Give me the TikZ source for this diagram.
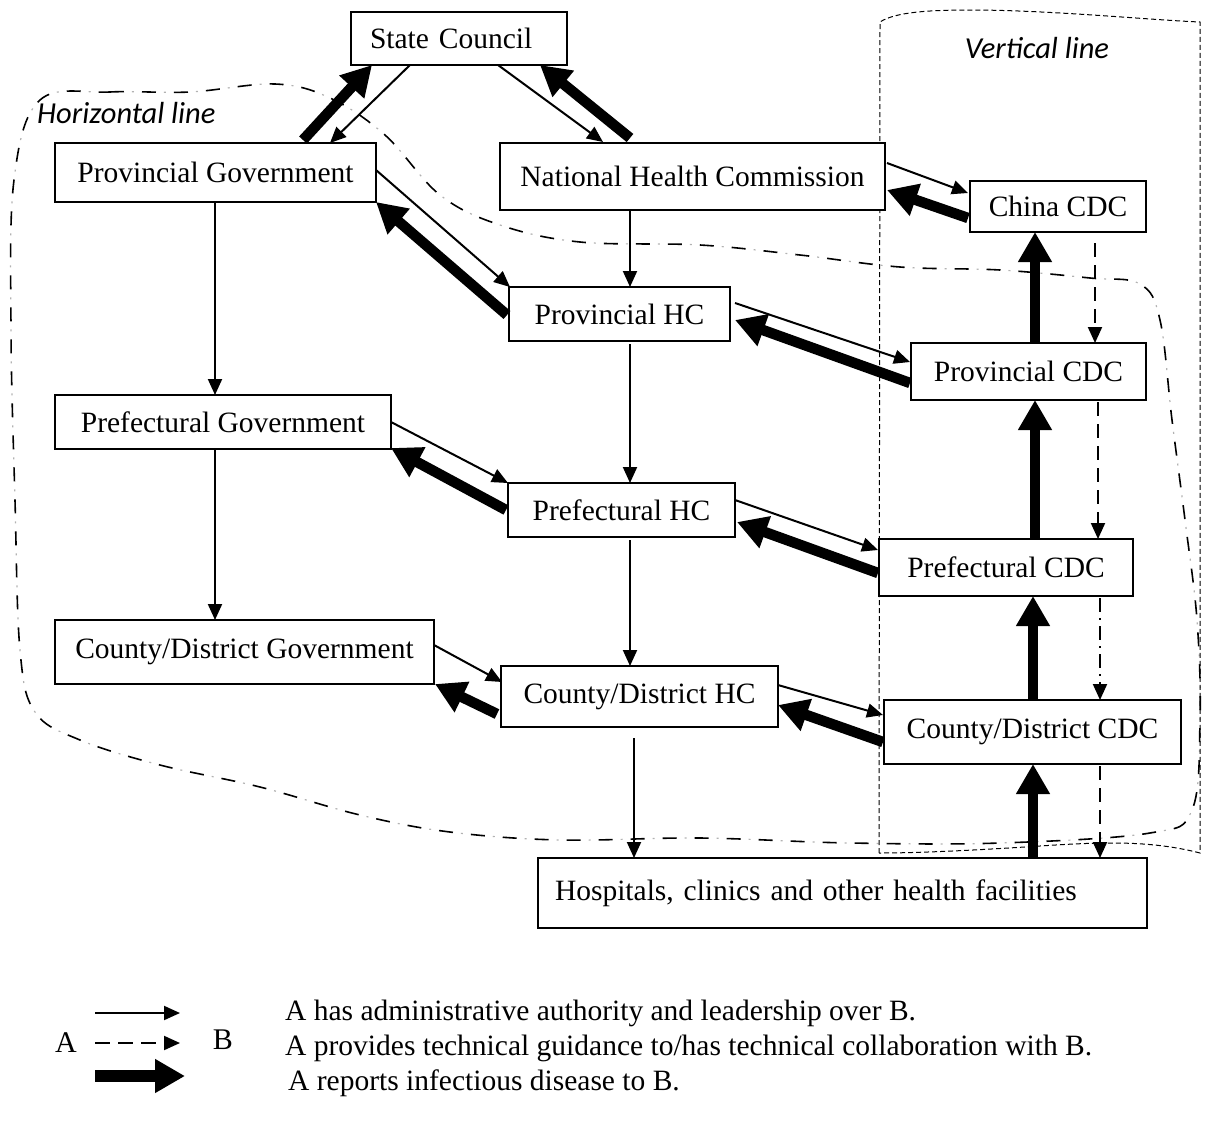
\documentclass[tikz,border=0pt]{standalone}
\usepackage{fontspec}
\setmainfont{Liberation Serif}
\newfontfamily\lblfont{Carlito}
\usetikzlibrary{arrows.meta,calc}
\tikzset{
  box/.style={draw, line width=1.4pt, fill=white, inner sep=0pt, outer sep=0pt,
    font=\fontsize{29.5}{34}\selectfont},
  thinarr/.style={line width=2pt, -{Triangle[length=16pt,width=14pt]}},
  thickarr/.style={line width=10.5pt, -{Triangle[length=30pt,width=32pt]}},
  techarr/.style={line width=2pt, dash pattern=on 14pt off 8pt, -{Triangle[length=16pt,width=14pt]}},
  techdot/.style={line width=2pt, dash pattern=on 14pt off 6pt on 2pt off 6pt, -{Triangle[length=16pt,width=14pt]}},
  hblack/.style={line width=1.6pt, dash pattern=on 14pt off 18pt},
  hgrey/.style={line width=1.2pt, gray!60, dash pattern=on 2pt off 30pt, dash phase=10pt},
  vline/.style={line width=1pt, dash pattern=on 5pt off 3pt},
  legtext/.style={anchor=west, inner sep=0pt, font=\fontsize{29.5}{34}\selectfont},
  grouplbl/.style={inner sep=0pt, font=\lblfont\itshape\fontsize{30.5}{34}\selectfont}
}
\begin{document}
\begin{tikzpicture}[x=1pt,y=-1pt]
\useasboundingbox (0,0) rectangle (1207,1122);
% ---- horizontal line boundary
\def\hpath{plot[smooth cycle, tension=0.6] coordinates {(40,100) (110,92) (190,92) (275,84) (330,98) (385,135) (440,195) (500,225) (580,242) (700,245) (800,255) (900,267) (1000,270) (1090,278) (1140,284) (1160,320) (1172,420) (1185,520) (1197,620) (1200,720) (1192,810) (1150,833) (1000,843) (850,843) (700,838) (560,840) (450,832) (360,815) (260,787) (160,765) (80,740) (35,712) (20,650) (15,500) (11,330) (14,180)}}
\draw[hgrey] \hpath;
\draw[hblack] \hpath;
% ---- vertical line boundary
\draw[vline] (879,853) -- (880,22) .. controls (895,12) and (930,10) .. (970,10)
  .. controls (1050,10) and (1150,20) .. (1200,22) -- (1200,853)
  .. controls (1150,840) and (1100,842) .. (1040,846)
  .. controls (980,850) and (920,853) .. (879,853);
\node[grouplbl, anchor=west] (hl) at (37,113) {Horizontal line};
\node[grouplbl] (vl) at (1037,48) {Vertical line};
% ---- boxes
\node[box, minimum width=216pt, minimum height=53pt, text width=178pt, align=left] (sc) at (459,38.5) {State Council};
\node[box, minimum width=321pt, minimum height=59pt] (pg) at (215.5,172.5) {Provincial Government};
\node[box, minimum width=385pt, minimum height=67pt] (nhc) at (692.5,176.5) {National Health Commission};
\node[box, minimum width=176pt, minimum height=51pt] (ccdc) at (1058,206.5) {China CDC};
\node[box, minimum width=221pt, minimum height=54pt] (phc) at (619.5,314) {Provincial HC};
\node[box, minimum width=235pt, minimum height=57pt] (pcdc) at (1028.5,371.5) {Provincial CDC};
\node[box, minimum width=336pt, minimum height=54pt] (prg) at (223,422) {Prefectural Government};
\node[box, minimum width=227pt, minimum height=54pt] (prhc) at (621.5,510) {Prefectural HC};
\node[box, minimum width=254pt, minimum height=57pt] (prcdc) at (1006,567.5) {Prefectural CDC};
\node[box, minimum width=379pt, minimum height=64pt] (cg) at (244.5,652) {County/District Government};
\node[box, minimum width=277pt, minimum height=61pt] (chc) at (639.5,696.5) {County/District HC};
\node[box, minimum width=297pt, minimum height=64pt] (ccdc2) at (1032.5,732) {County/District CDC};
\node[box, minimum width=609pt, minimum height=70pt, text width=575pt, align=left] (hosp) at (842.5,893) {Hospitals, clinics and other health facilities};
% ---- connectors
\draw[thickarr] ($(pg.north west)+(248,-3)$) -- ($(sc.north west)+(21,53)$);
\draw[thinarr] ($(sc.north west)+(59,53)$) -- ($(pg.north west)+(275,0)$);
\draw[thinarr] ($(sc.north west)+(147,53)$) -- ($(nhc.north west)+(103,-1)$);
\draw[thickarr] ($(nhc.north west)+(130,-5)$) -- ($(sc.north west)+(189,53)$);
\draw[thinarr] ($(pg.north west)+(321,27)$) -- ($(phc.north west)+(1,0)$);
\draw[thickarr] ($(phc.north west)+(-2,28)$) -- ($(pg.north west)+(321,59)$);
\draw[thinarr] ($(nhc.north west)+(130,67)$) -- ($(phc.north west)+(121,0)$);
\draw[thinarr] ($(nhc.north west)+(387,20)$) -- ($(ccdc.north west)+(-2,12)$);
\draw[thickarr] ($(ccdc.north west)+(-2,37)$) -- ($(nhc.north west)+(387,47)$);
\draw[thickarr] ($(pcdc.north west)+(124,0)$) -- ($(ccdc.north west)+(65,51)$);
\draw[techarr] ($(ccdc.north west)+(125,62)$) -- ($(pcdc.north west)+(184,0)$);
\draw[thinarr] ($(phc.north west)+(226,16)$) -- ($(pcdc.north west)+(-1,19)$);
\draw[thickarr] ($(pcdc.north west)+(-1,40)$) -- ($(phc.north west)+(226,33)$);
\draw[thinarr] ($(phc.north west)+(121,57)$) -- ($(prhc.north west)+(122,0)$);
\draw[thinarr] ($(pg.north west)+(160,59)$) -- ($(prg.north west)+(160,0)$);
\draw[thickarr] ($(prcdc.north west)+(156,0)$) -- ($(pcdc.north west)+(124,57)$);
\draw[techarr] ($(pcdc.north west)+(187,59)$) -- ($(prcdc.north west)+(219,0)$);
\draw[thinarr] ($(prg.north west)+(336,27)$) -- ($(prhc.north west)+(0,0)$);
\draw[thickarr] ($(prhc.north west)+(-2,27)$) -- ($(prg.north west)+(336,53)$);
\draw[thinarr] ($(prhc.north west)+(227,17)$) -- ($(prcdc.north west)+(-1,11)$);
\draw[thickarr] ($(prcdc.north west)+(-1,34)$) -- ($(prhc.north west)+(229,39)$);
\draw[thinarr] ($(prhc.north west)+(122,57)$) -- ($(chc.north west)+(129,0)$);
\draw[thinarr] ($(prg.north west)+(160,54)$) -- ($(cg.north west)+(160,0)$);
\draw[thinarr] ($(cg.north west)+(379,25)$) -- ($(chc.north west)+(1,16)$);
\draw[thickarr] ($(chc.north west)+(-4,48)$) -- ($(cg.north west)+(380,64)$);
\draw[thinarr] ($(chc.north west)+(277,19)$) -- ($(ccdc2.north west)+(-1,15)$);
\draw[thickarr] ($(ccdc2.north west)+(-1,42)$) -- ($(chc.north west)+(277,39)$);
\draw[thickarr] ($(ccdc2.north west)+(149,0)$) -- ($(prcdc.north west)+(154,57)$);
\draw[techdot] ($(prcdc.north west)+(221,59)$) -- ($(ccdc2.north west)+(216,0)$);
\draw[thinarr] ($(chc.north west)+(133,72)$) -- ($(hosp.north west)+(96,0)$);
\draw[thickarr] ($(hosp.north west)+(495,0)$) -- ($(ccdc2.north west)+(149,64)$);
\draw[techarr] ($(ccdc2.north west)+(216,66)$) -- ($(hosp.north west)+(562,0)$);
% ---- legend
\coordinate (l1a) at (95,1013); \coordinate (l1b) at (180,1013);
\coordinate (l2a) at (95,1043); \coordinate (l2b) at (180,1043);
\coordinate (l3a) at (95,1076); \coordinate (l3b) at (185,1076);
\draw[thinarr] (l1a) -- (l1b);
\draw[techarr, dash pattern=on 15pt off 8pt] (l2a) -- (l2b);
\draw[thickarr, line width=12pt] (l3a) -- (l3b);
\node[inner sep=0pt, font=\fontsize{30}{34}\selectfont] (la) at (66,1043) {A};
\node[inner sep=0pt, font=\fontsize{30}{34}\selectfont] (lb) at (223,1040) {B};
\node[legtext] (t1) at (285,1013) {A has administrative authority and leadership over B.};
\node[legtext] (t2) at (285,1048) {A provides technical guidance to/has technical collaboration with B.};
\node[legtext] (t3) at (288,1083) {A reports infectious disease to B.};
\end{tikzpicture}
\end{document}
